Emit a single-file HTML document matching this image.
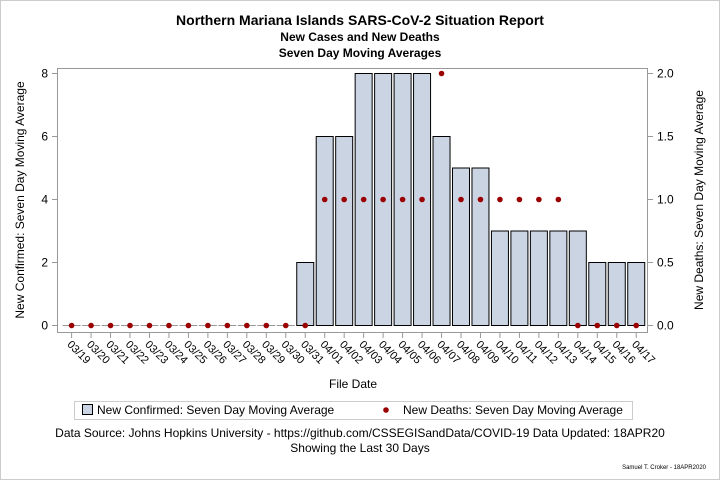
<!DOCTYPE html>
<html><head><meta charset="utf-8"><style>
body{margin:0;background:#fff;font-family:"Liberation Sans",Arial,sans-serif}
</style></head><body>
<svg id="c" width="720" height="480" viewBox="0 0 720 480" xmlns="http://www.w3.org/2000/svg" font-family="Liberation Sans, Arial, sans-serif">
<rect x="0.5" y="0.5" width="719" height="479" fill="#fff" stroke="#ccc"/>
<text x="360" y="25" text-anchor="middle" font-size="14" font-weight="bold">Northern Mariana Islands SARS-CoV-2 Situation Report</text>
<text x="360" y="41" text-anchor="middle" font-size="12" font-weight="bold">New Cases and New Deaths</text>
<text x="360" y="57" text-anchor="middle" font-size="12" font-weight="bold">Seven Day Moving Averages</text>
<rect x="57.5" y="68.5" width="590" height="264" fill="none" stroke="#999"/>
<g id="bars"></g><g id="dots"></g><g id="axes"></g>
<text transform="translate(24,200) rotate(-90)" text-anchor="middle" font-size="12">New Confirmed: Seven Day Moving Average</text>
<text transform="translate(703,200) rotate(-90)" text-anchor="middle" font-size="12">New Deaths: Seven Day Moving Average</text>
<text x="353" y="388" text-anchor="middle" font-size="12">File Date</text>
<g>
<rect x="74.5" y="401.5" width="558" height="18" fill="none" stroke="#ccc"/>
<rect x="82.5" y="404.5" width="10" height="10" fill="#cad4e3" stroke="#000"/>
<text x="97" y="414" font-size="12">New Confirmed: Seven Day Moving Average</text>
<circle cx="386" cy="410" r="2.8" fill="#9b0000"/>
<text x="403" y="414" font-size="12">New Deaths: Seven Day Moving Average</text>
</g>
<text x="360" y="437" text-anchor="middle" font-size="12">Data Source: Johns Hopkins University - https://github.com/CSSEGISandData/COVID-19 Data Updated: 18APR20</text>
<text x="360" y="452" text-anchor="middle" font-size="12">Showing the Last 30 Days</text>
<text x="706" y="469" text-anchor="end" font-size="6">Samuel T. Croker - 18APR2020</text>
</svg>
<script>
const categories=["03/19","03/20","03/21","03/22","03/23","03/24","03/25","03/26","03/27","03/28","03/29","03/30","03/31","04/01","04/02","04/03","04/04","04/05","04/06","04/07","04/08","04/09","04/10","04/11","04/12","04/13","04/14","04/15","04/16","04/17"];
const confirmed=[0,0,0,0,0,0,0,0,0,0,0,0,2,6,6,8,8,8,8,6,5,5,3,3,3,3,3,2,2,2];
const deaths=[0,0,0,0,0,0,0,0,0,0,0,0,0,1,1,1,1,1,1,2,1,1,1,1,1,1,0,0,0,0];
const leftTicks=[0,2,4,6,8];
const rightTicks=["0.0","0.5","1.0","1.5","2.0"];
const NS="http://www.w3.org/2000/svg";
const xPos=i=>71.6+i*19.47;
const yL=v=>325.5-v*31.5;
const yR=v=>325.5-v*126;
function mk(tag,attrs,parent,txt){const e=document.createElementNS(NS,tag);for(const k in attrs)e.setAttribute(k,attrs[k]);if(txt!==undefined)e.textContent=txt;document.getElementById(parent).appendChild(e);return e;}
confirmed.forEach((v,i)=>{
  const x=xPos(i)-8.5;
  const r=mk('rect',{x:x,y:yL(v),width:17,height:Math.max(yL(0)-yL(v),0.01),fill:v>0?'#cad4e3':'none',stroke:v>0?'#000':'#999','stroke-width':1},'bars');
  
  
});
deaths.forEach((v,i)=>{
  const c=mk('circle',{cx:xPos(i),cy:yR(v),r:2.8,fill:'#9b0000'},'dots');
  
  
});
leftTicks.forEach(v=>{
  mk('line',{x1:52,x2:57,y1:yL(v),y2:yL(v),stroke:'#999'},'axes');
  const t=mk('text',{x:48,y:yL(v)+4,'text-anchor':'end','font-size':12},'axes',String(v));
  
  
});
rightTicks.forEach(s=>{
  const v=parseFloat(s);
  mk('line',{x1:648,x2:653,y1:yR(v),y2:yR(v),stroke:'#999'},'axes');
  const t=mk('text',{x:657,y:yR(v)+4,'font-size':12},'axes',s);
  
  
});
categories.forEach((c,i)=>{
  const x=xPos(i);
  mk('line',{x1:x,x2:x,y1:333,y2:338,stroke:'#999'},'axes');
  const t=mk('text',{transform:`translate(${x-5},${345}) rotate(45)`,'font-size':11},'axes',c);
  
  
});
</script>
</body></html>
